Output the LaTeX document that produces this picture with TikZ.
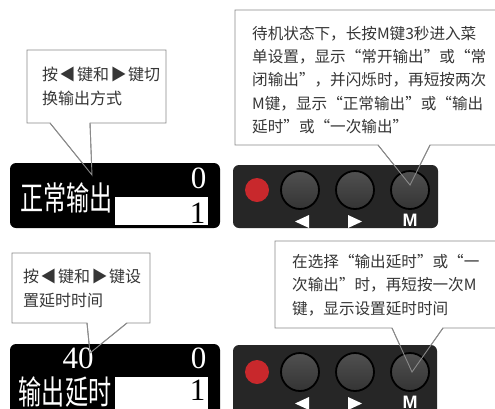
\documentclass[tikz,border=0pt]{standalone}
\usepackage{fontspec}
\newfontfamily\cjk{Noto Sans CJK SC}
\newfontfamily\digitfont{Liberation Serif}
\newfontfamily\keyfont{Liberation Sans}
\definecolor{calloutgray}{HTML}{8A8A8A}
\definecolor{txtgray}{HTML}{363636}
\definecolor{panelgray}{HTML}{262626}
\definecolor{btntop}{HTML}{505050}
\definecolor{btnbot}{HTML}{343434}
\definecolor{ledred}{HTML}{C8282C}
\newcommand{\tsp}{\hspace{1.5pt}}
\begin{document}
\begin{tikzpicture}[x=1pt,y=-1pt,
  callout/.style={draw=calloutgray, fill=white, line width=0.9pt},
  tailline/.style={draw=calloutgray, line width=0.9pt},
  ctext/.style={anchor=west, align=left, inner sep=0pt, text=txtgray},
  rtext/.style={ctext, font=\cjk\fontsize{15.6}{23.3}\selectfont},
  ltext/.style={ctext, font=\cjk\fontsize{16}{23.3}\selectfont},
  disp/.style={fill=black, rounded corners=6pt},
  dispword/.style={text=white, inner sep=0pt, font=\cjk\fontsize{33}{33}\selectfont},
  digit/.style={inner sep=0pt, font=\digitfont\fontsize{31}{31}\selectfont},
  panel/.style={fill=panelgray, rounded corners=6pt},
  btn/.style={circle, minimum size=38pt, inner sep=0pt, draw=black, line width=1.8pt, top color=btntop, bottom color=btnbot},
  led/.style={circle, fill=ledred, minimum size=24pt, inner sep=0pt},
  keylabel/.style={text=white, inner sep=0pt, font=\keyfont\bfseries\fontsize{18}{18}\selectfont}
]
\useasboundingbox (0,0) rectangle (495,408);
\begin{scope}
\clip (0,0) rectangle (495,408);
\fill[white] (0,0) rectangle (495,408);

% tips of callouts
\coordinate (tipA) at (92,175);
\coordinate (tipB) at (90,353);
\coordinate (tipC) at (410,185);
\coordinate (tipD) at (412,372);

% callouts (boxes)
\draw[callout] (27,50) -- (166,50) -- (166,123) -- (90,123) -- (tipA) -- (50,123) -- (27,123) -- cycle;
\draw[callout] (235,10) -- (505,10) -- (505,145) -- (430,145) -- (tipC) -- (378,145) -- (235,145) -- cycle;
\draw[callout] (12,253) -- (150,253) -- (150,323) -- (127,323) -- (tipB) -- (87,323) -- (12,323) -- cycle;
\draw[callout] (275,241) -- (505,241) -- (505,328) -- (443,328) -- (tipD) -- (392,328) -- (275,328) -- cycle;

% callout texts
\node[ltext] (tA) at (42,86.5) {按\tsp{}◀\tsp{}键和\tsp{}▶\tsp{}键切\\换输出方式};
\node[rtext] (tC) at (252,80) {待机状态下，长按M键3秒进入菜\\单设置，显示“常开输出”或“常\\闭输出”，并闪烁时，再短按两次\\M键，显示“正常输出”或“输出\\延时”或“一次输出”};
\node[ltext] (tB) at (23,288.5) {按\tsp{}◀\tsp{}键和\tsp{}▶\tsp{}键设\\置延时时间};
\node[rtext] (tD) at (292,285) {在选择“输出延时”或“一\\次输出”时，再短按一次M\\键，显示设置延时时间};

% display 1
\fill[disp] (10,163) rectangle (220,228);
\fill[white] (115,197) rectangle (208,225);
\node[dispword] (w1) at (66.5,197.5) {\scalebox{0.7}[1]{正常输出}};
\node[digit, text=white] (d10) at (198.5,178) {0};
\node[digit, text=black] (d11) at (197.5,213) {1};

% display 2
\fill[disp] (10,344) rectangle (220,430);
\fill[white] (115,377) rectangle (208,430);
\node[dispword] (w2) at (65,392.5) {\scalebox{0.7}[1]{输出延时}};
\node[digit, text=white] (d40) at (78,358.5) {40};
\node[digit, text=white] (d20) at (198.5,358.5) {0};
\node[digit, text=black] (d21) at (197.5,390.5) {1};

% panel 1
\fill[panel] (233,165) rectangle (438,228);
\node[led] (led1) at (257,190) {};
\node[btn] (b11) at (300,190) {};
\node[btn] (b12) at (355,190) {};
\node[btn] (b13) at (410,190) {};
\fill[white] (309,215) -- (309,228) -- (295,221.5) -- cycle;
\fill[white] (348,215) -- (348,228) -- (362,221.5) -- cycle;
\node[keylabel] (m1) at (410,220.5) {M};

% panel 2
\fill[panel] (233,345) rectangle (437,430);
\node[led] (led2) at (257,372) {};
\node[btn] (b21) at (300,372) {};
\node[btn] (b22) at (355,372) {};
\node[btn] (b23) at (410,372) {};
\fill[white] (309,397) -- (309,410) -- (295,403.5) -- cycle;
\fill[white] (348,397) -- (348,410) -- (362,403.5) -- cycle;
\node[keylabel] (m2) at (410,402.5) {M};

% tail lines over displays and panels
\draw[tailline] (50,123) -- (tipA) -- (90,123);
\draw[tailline] (378,145) -- (tipC) -- (430,145);
\draw[tailline] (87,323) -- (tipB) -- (127,323);
\draw[tailline] (392,328) -- (tipD) -- (443,328);
\end{scope}
\end{tikzpicture}
\end{document}
